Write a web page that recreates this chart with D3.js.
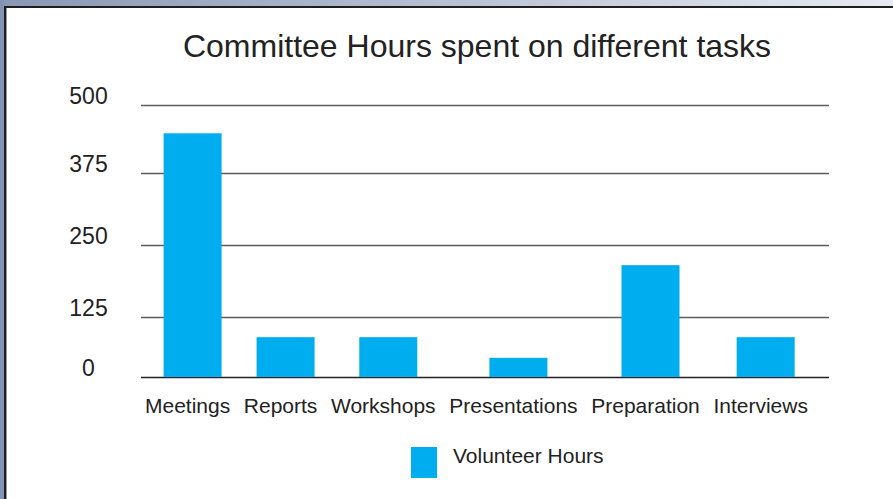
<!DOCTYPE html>
<html>
<head>
<meta charset="utf-8">
<script src="https://cdn.jsdelivr.net/npm/d3@7"></script>
<style>
  body { margin: 0; background: #fff; }
  svg { display: block; font-family: "Liberation Sans", Arial, sans-serif; }
</style>
</head>
<body>
<script>
// chart data
var categories = ["Meetings", "Reports", "Workshops", "Presentations", "Preparation", "Interviews"];
var hours = [448, 83, 83, 40, 215, 83];
var yTicks = [0, 125, 250, 375, 500];
var seriesName = "Volunteer Hours";
var title = "Committee Hours spent on different tasks";

var W = 893, H = 499;
var gridLeft = 141, gridRight = 829;
var barColor = "#00aeef", textColor = "#222";

var svg = d3.select("body").append("svg")
    .attr("width", W)
    .attr("height", H);

// window frame: gradient band on top, dark edge lines
var defs = svg.append("defs");
var grad = defs.append("linearGradient").attr("id", "topband");
grad.append("stop").attr("offset", "0%").attr("stop-color", "#8797b5");
grad.append("stop").attr("offset", "100%").attr("stop-color", "#e7eaf1");

svg.append("rect").attr("x", 0).attr("y", 0).attr("width", W).attr("height", 7).attr("fill", "url(#topband)");
svg.append("rect").attr("x", 0).attr("y", 0).attr("width", 4).attr("height", H).attr("fill", "#8393b3");
svg.append("rect").attr("x", 4).attr("y", 6).attr("width", W - 4).attr("height", 2).attr("fill", "#1e1e1e");
svg.append("rect").attr("x", 4).attr("y", 6).attr("width", 2).attr("height", H - 6).attr("fill", "#1e1e1e");
svg.append("rect").attr("x", 6).attr("y", 8).attr("width", 1).attr("height", H - 8).attr("fill", "#9a9a9a");

// y scale: the gridlines in the original are not evenly spaced, so map each tick
var y = d3.scaleLinear()
    .domain(yTicks)
    .range([377, 317, 245, 173, 105]);

// gridlines
svg.append("g")
    .attr("transform", "translate(" + gridLeft + ",0)")
    .call(d3.axisLeft(y).tickValues(yTicks).tickSize(-(gridRight - gridLeft)).tickFormat(""))
    .call(function(g) { g.select(".domain").remove(); })
    .selectAll("line")
        .attr("stroke", function(d) { return d === 0 ? "#222" : "#5c5c5c"; })
        .attr("stroke-width", 1.5);

// y tick labels
svg.append("g")
    .attr("transform", "translate(88.5,0)")
    .call(d3.axisLeft(y).tickValues(yTicks).tickSize(0).tickPadding(0))
    .call(function(g) { g.select(".domain").remove(); })
    .selectAll("text")
        .attr("text-anchor", "middle")
        .attr("dy", "-0.08em")
        .attr("fill", textColor)
        .style("font-size", "23px")
        .style("font-family", "'Liberation Sans', Arial, sans-serif");

// x labels laid out one after another by text width, bars sit under them
var labelStart = 145, labelGap = 13.6, labelSize = 21;
var barOffset = 5, barWidth = 58;
var measure = svg.append("g");
var widths = categories.map(function(c) {
    var t = measure.append("text").style("font-size", labelSize + "px").text(c);
    var w = t.node().getComputedTextLength();
    t.remove();
    return w;
});
measure.remove();
var centres = [], cx = labelStart;
widths.forEach(function(w) {
    centres.push(cx + w / 2);
    cx += w + labelGap;
});
var x = d3.scaleOrdinal().domain(categories).range(centres);

var data = categories.map(function(c, i) { return {cat: c, value: hours[i]}; });

svg.selectAll(".bar")
    .data(data)
    .enter()
    .append("rect")
    .classed("bar", true)
    .attr("x", function(d) { return x(d.cat) + barOffset - barWidth / 2; })
    .attr("y", function(d) { return y(d.value); })
    .attr("width", barWidth)
    .attr("height", function(d) { return y(0) - y(d.value); })
    .attr("fill", barColor);

svg.selectAll(".xlabel")
    .data(categories)
    .enter()
    .append("text")
    .classed("xlabel", true)
    .attr("x", function(d) { return x(d); })
    .attr("y", 413)
    .attr("text-anchor", "middle")
    .style("font-size", labelSize + "px")
    .attr("fill", textColor)
    .text(function(d) { return d; });

// title
svg.append("text")
    .attr("x", 477)
    .attr("y", 57)
    .attr("text-anchor", "middle")
    .style("font-size", "32px")
    .attr("fill", textColor)
    .text(title);

// legend
svg.append("rect")
    .attr("x", 411)
    .attr("y", 447)
    .attr("width", 26)
    .attr("height", 31)
    .attr("fill", barColor);

svg.append("text")
    .attr("x", 453)
    .attr("y", 463)
    .style("font-size", "21px")
    .attr("fill", textColor)
    .text(seriesName);
</script>
</body>
</html>
